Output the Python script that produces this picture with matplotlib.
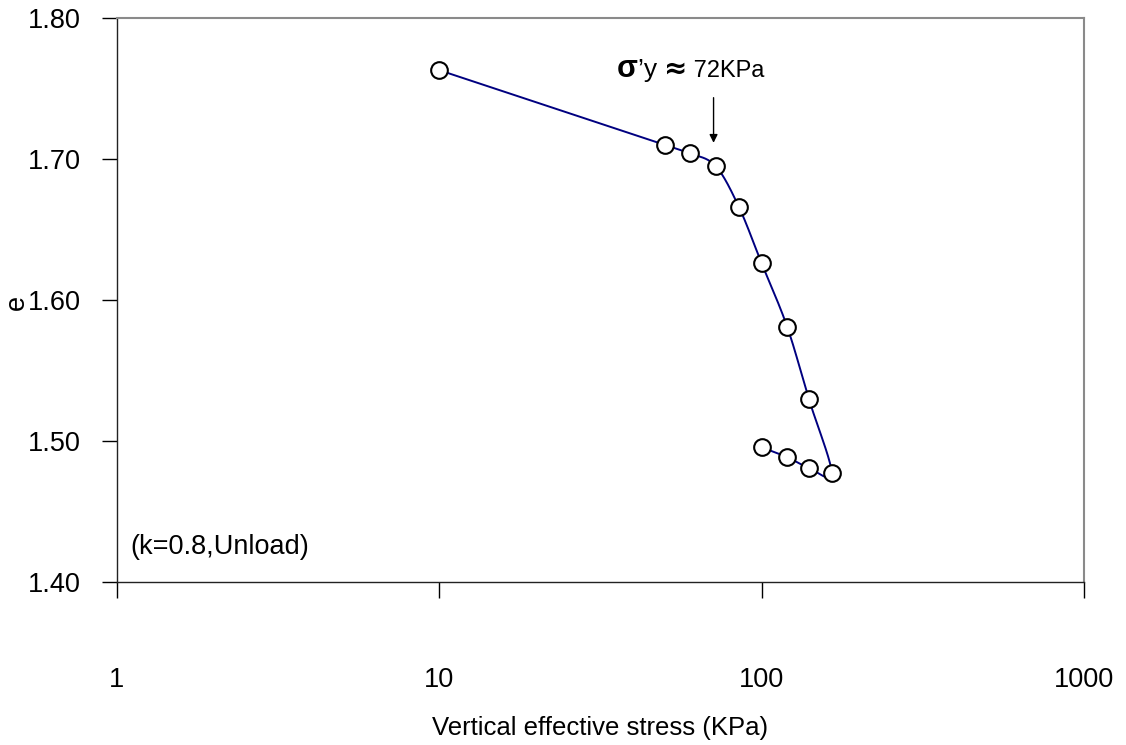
import numpy as np
import matplotlib
matplotlib.use("Agg")
import matplotlib.pyplot as plt
import matplotlib.transforms as mtransforms
from matplotlib.ticker import FixedLocator, NullLocator

plt.rcParams['font.family'] = ['Liberation Sans', 'DejaVu Sans']

# Oedometer test: loading then unloading (k=0.8)
stress = [10, 50, 60, 72, 85, 100, 120, 140, 165, 140, 120, 100]
void_ratio = [1.763, 1.710, 1.704, 1.695, 1.666, 1.626, 1.581, 1.530,
              1.477, 1.481, 1.4885, 1.4955]

x_ticks = [1, 10, 100, 1000]
x_tick_labels = ["1", "10", "100", "1000"]
y_ticks = [1.40, 1.50, 1.60, 1.70, 1.80]
y_tick_labels = ["1.40", "1.50", "1.60", "1.70", "1.80"]

yield_stress = 72


def smooth_curve(xs, ys, n=40):
    """Catmull-Rom style smoothing in log-x / linear-y space."""
    lx = np.log10(np.asarray(xs, float)) * 322.0
    ly = np.asarray(ys, float) * 1412.0
    pts = np.column_stack([lx, ly])
    out = []
    for i in range(len(pts) - 1):
        p0 = pts[i - 1] if i > 0 else pts[i]
        p1 = pts[i]
        p2 = pts[i + 1]
        p3 = pts[i + 2] if i + 2 < len(pts) else pts[i + 1]
        c1 = p1 + (p2 - p0) / 6.0
        c2 = p2 - (p3 - p1) / 6.0
        t = np.linspace(0, 1, n)[:, None]
        seg = ((1 - t) ** 3) * p1 + 3 * ((1 - t) ** 2) * t * c1 \
            + 3 * (1 - t) * t ** 2 * c2 + t ** 3 * p2
        out.append(seg if i == 0 else seg[1:])
    out = np.vstack(out)
    return 10 ** (out[:, 0] / 322.0), out[:, 1] / 1412.0


fig = plt.figure(figsize=(11.26, 7.45), dpi=100)
ax = fig.add_axes([0.1039, 0.2188, 0.8588, 0.7570])

ax.set_xscale("log")
ax.set_xlim(1, 1000)
ax.set_ylim(1.40, 1.80)

sx, sy = smooth_curve(stress, void_ratio)
ax.plot(sx, sy, color="#000080", lw=1.4, zorder=2)
ax.plot(stress, void_ratio, linestyle="none", marker="o", ms=12,
        mfc="white", mec="black", mew=1.5, zorder=3)

ax.xaxis.set_major_locator(FixedLocator(x_ticks))
ax.xaxis.set_minor_locator(NullLocator())
ax.set_xticklabels(x_tick_labels)
ax.yaxis.set_major_locator(FixedLocator(y_ticks))
ax.set_yticklabels(y_tick_labels)

ax.tick_params(axis="x", direction="out", length=11.5, width=1.0,
               pad=50, labelsize=19.5, colors="black")
ax.tick_params(axis="y", direction="out", length=11, width=1.0,
               pad=15, labelsize=19.5, colors="black")

for side in ("left", "bottom"):
    ax.spines[side].set_color("#222222")
    ax.spines[side].set_linewidth(1.0)
for side in ("top", "right"):
    ax.spines[side].set_color("#8a8a8a")
    ax.spines[side].set_linewidth(1.5)

ax.set_xlabel("Vertical effective stress (KPa)", fontsize=18.5, labelpad=16)
fig.text(17 / 1126, 1 - 302 / 745, "e", rotation=90, fontsize=19.5,
         ha="center", va="center")

ax.text(0.014, 0.062, "(k=0.8,Unload)", transform=ax.transAxes,
        fontsize=19.5, ha="left", va="center")

# yield stress annotation: arrow plus a run of mixed-style text on one baseline
ax.annotate("", xy=(yield_stress * 0.985, 1.7115), xytext=(yield_stress * 0.985, 1.7435),
            arrowprops=dict(arrowstyle="-|>", color="black", lw=1.0,
                            mutation_scale=12, shrinkA=0, shrinkB=0))

pieces = [("σ", 22, "bold", "Liberation Sans"),
          ("’y ", 19, "normal", "Liberation Sans"),
          ("≈", 20, "bold", "DejaVu Sans"),
          (" 72KPa", 17, "normal", "Liberation Sans")]
anchor_x, anchor_y = 35.5, 1.7585
renderer = fig.canvas.get_renderer()
offset_px = 0.0
for txt, size, weight, family in pieces:
    trans = mtransforms.offset_copy(ax.transData, fig=fig,
                                    x=offset_px * 72.0 / fig.dpi, y=0,
                                    units="points")
    t = ax.text(anchor_x, anchor_y, txt, fontsize=size, fontweight=weight,
                family=family, ha="left", va="baseline", transform=trans)
    offset_px += t.get_window_extent(renderer).width

fig.savefig("out.png", dpi=100, facecolor="white")
